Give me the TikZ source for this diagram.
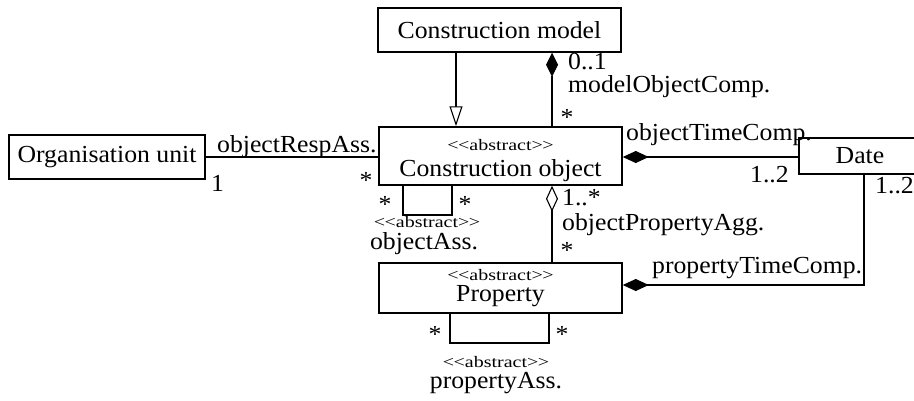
\documentclass[tikz,border=0pt]{standalone}
\usepackage{fontspec}
\setmainfont{Liberation Serif}[FakeStretch=1.05]
\newfontfamily\smallserif{Liberation Serif}[FakeStretch=1.25]
\usetikzlibrary{arrows.meta}
\tikzset{
  umlbox/.style={draw, line width=1.5pt, inner sep=0pt, font=\fontsize{24.5}{24.5}\selectfont},
  bigtxt/.style={inner sep=0pt, font=\fontsize{24.5}{24.5}\selectfont},
  smalltxt/.style={inner sep=0pt, font=\smallserif\fontsize{16}{16}\selectfont},
  conn/.style={line width=1.1pt},
  compo/.style={conn, {Diamond[length=24pt,width=12pt,fill=black]}-},
  compoend/.style={conn, -{Diamond[length=26pt,width=12pt,fill=black]}},
  aggr/.style={conn, {Diamond[length=26pt,width=12pt,open,fill=white]}-},
  gener/.style={conn, -{Triangle[length=20pt,width=13pt,open,fill=white]}}
}
\newcommand{\abst}{<\kern-0.5pt<abstract>\kern-0.5pt>}
\begin{document}
\begin{tikzpicture}[x=1pt,y=-1pt]
\useasboundingbox (0,0) rectangle (914,400);
% boxes
\node[umlbox, minimum width=243pt, minimum height=44pt] (cm) at (499.5,30) {Construction model};
\node[umlbox, minimum width=243pt, minimum height=58pt] (co) at (500.5,156) {};
\node[umlbox, minimum width=196pt, minimum height=44pt] (ou) at (107,157) {Organisation unit};
\node[umlbox, minimum width=122pt, minimum height=36pt] (date) at (860,156) {Date};
\node[umlbox, minimum width=243pt, minimum height=50pt] (prop) at (500.5,288) {};
% box texts
\node[smalltxt, anchor=base] (coa) at (500.5,150) {\abst};
\node[bigtxt, anchor=base] (cot) at (500.5,176) {Construction object};
\node[smalltxt, anchor=base] (pra) at (500.5,280) {\abst};
\node[bigtxt, anchor=base] (prt) at (500.5,301) {Property};
% helper coordinates
\coordinate (xg) at (456,0);
\coordinate (xc) at (552,0);
\coordinate (xd) at (864,0);
\coordinate (yp) at (0,285);
\coordinate (l1) at (403,215);
\coordinate (l2) at (452,215);
\coordinate (m1) at (450,343);
\coordinate (m2) at (549,343);
% connectors
\draw[gener] (xg |- cm.south) -- (xg |- co.north);
\draw[compo] (xc |- cm.south) -- (xc |- co.north);
\draw[conn] (ou.east) -- (ou.east -| co.west);
\draw[compoend] (date.west |- 0,157) -- (co.east |- 0,157);
\draw[aggr] (xc |- co.south) -- (xc |- prop.north);
\draw[compoend] (xd |- date.south) |- (yp -| prop.east);
\draw[conn] (l1 |- co.south) -- (l1) -- (l2) -- (l2 |- co.south);
\draw[conn] (m1 |- prop.south) -- (m1) -- (m2) -- (m2 |- prop.south);
% labels
\node[bigtxt, anchor=base west] (m01) at (568,69) {0..1};
\node[bigtxt, anchor=base west] (mocl) at (568,92) {modelObjectComp.};
\node[bigtxt, anchor=base] (s1) at (567,125) {*};
\node[bigtxt, anchor=base west] (one) at (211,191) {1};
\node[bigtxt, anchor=base west] (ora) at (217,152) {objectRespAss.};
\node[bigtxt, anchor=base] (s2) at (366,188) {*};
\node[bigtxt, anchor=base west] (otc) at (626,140) {objectTimeComp.};
\node[bigtxt, anchor=base west] (d12a) at (750,182) {1..2};
\node[bigtxt, anchor=base west] (d12b) at (875,193) {1..2};
\node[bigtxt, anchor=base] (s3) at (385,212) {*};
\node[bigtxt, anchor=base] (s4) at (465,212) {*};
\node[smalltxt, anchor=base] (oaa) at (427,227.5) {\abst};
\node[bigtxt, anchor=base] (oa) at (424,249.5) {objectAss.};
\node[bigtxt, anchor=base west] (oneS) at (562,205) {1..*};
\node[bigtxt, anchor=base west] (opa) at (562,230) {objectPropertyAgg.};
\node[bigtxt, anchor=base] (s5) at (567,258) {*};
\node[bigtxt, anchor=base west] (ptc) at (652,273) {propertyTimeComp.};
\node[bigtxt, anchor=base] (s6) at (435,342) {*};
\node[bigtxt, anchor=base] (s7) at (562,342) {*};
\node[smalltxt, anchor=base] (paa) at (496,367) {\abst};
\node[bigtxt, anchor=base] (pa) at (496,388.5) {propertyAss.};
\end{tikzpicture}
\end{document}
